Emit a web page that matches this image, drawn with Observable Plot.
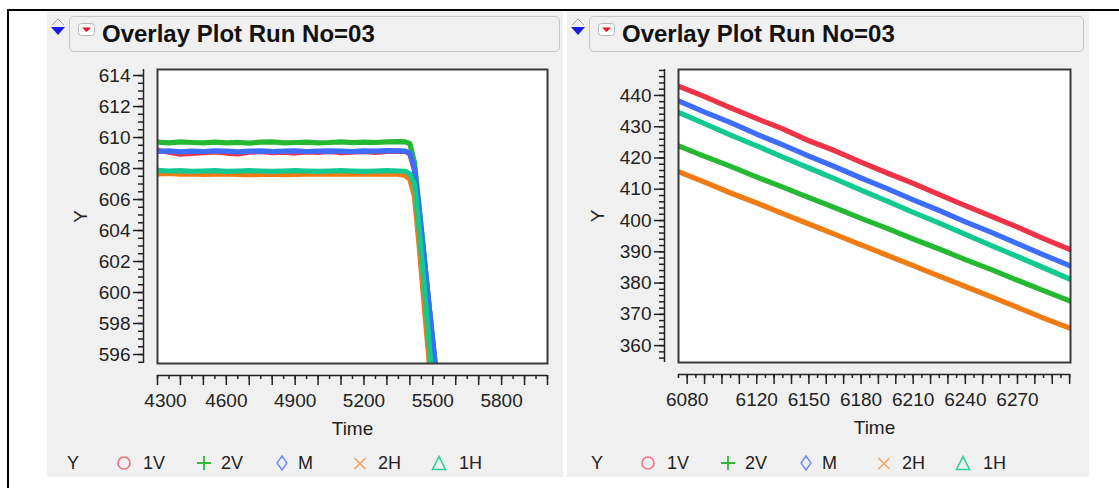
<!DOCTYPE html>
<html>
<head>
<meta charset="utf-8">
<script src="https://cdn.jsdelivr.net/npm/d3@7"></script>
<script src="https://cdn.jsdelivr.net/npm/@observablehq/plot@0.6"></script>
<style>
  body { margin: 0; width: 1119px; height: 488px; background: #fff; position: relative; overflow: hidden;
         font-family: "Liberation Sans", Arial, sans-serif; color: #222; }
  .rule-top { position: absolute; left: 7px; top: 9px; width: 1112px; height: 2px; background: #000; }
  .rule-left { position: absolute; left: 7px; top: 9px; width: 2px; height: 479px; background: #000; }
  .panel { position: absolute; top: 11px; height: 466px; background: #f0f0f0; }
  .outline { position: absolute; left: 3px; top: 7px; }
  .title { position: absolute; top: 5px; height: 34px; border: 1px solid #c6c6c6; border-radius: 5px;
           background: #f0f0f0; box-sizing: content-box; }
  .title .menu { position: absolute; left: 8px; top: 6px; }
  .title span { position: absolute; left: 32px; top: 0; line-height: 34px; font-weight: bold; font-size: 24px; color: #111; }
  .chart { position: absolute; top: 44px; left: 0; }
  .legend { position: absolute; top: 440px; height: 24px; font-size: 18px; }
  .legend > * { position: absolute; top: 0; line-height: 24px; }
</style>
</head>
<body>
<div class="rule-top"></div>
<div class="rule-left"></div>
<div id="left" class="panel" style="left:47px;width:516px"></div>
<div id="right" class="panel" style="left:567px;width:522px"></div>
<script>
// Series names and colours
const seriesNames = ["1V", "2V", "M", "2H", "1H"];
const lineColors = ["#ee3349", "#25b933", "#3d6dff", "#f07b12", "#12c992"];
const legendColors = ["#f26d7e", "#2fb83a", "#6b8cff", "#f5a15c", "#2ccf9c"];

// Run up to the cut-off (left panel)
const leftTime = [4300, 4350, 4400, 4450, 4500, 4550, 4600, 4650, 4700, 4750, 4800, 4850, 4900, 4950, 5000,
                  5050, 5100, 5150, 5200, 5250, 5300, 5350, 5380, 5400, 5420, 5440, 5460, 5480, 5500, 5520];
const left1V = [609.18, 609.05, 608.92, 608.98, 609.02, 609.08, 609.00, 608.95, 609.05, 609.10, 609.02, 609.06, 609.00, 609.08, 609.04,
                609.10, 609.02, 609.06, 609.10, 609.04, 609.10, 609.12, 609.10, 608.95, 607.90, 605.30, 602.50, 599.60, 596.80, 594.00];
const left2V = [609.70, 609.66, 609.72, 609.68, 609.65, 609.70, 609.66, 609.69, 609.64, 609.70, 609.72, 609.66, 609.68, 609.70, 609.66,
                609.68, 609.72, 609.67, 609.70, 609.68, 609.72, 609.74, 609.72, 609.60, 608.40, 605.60, 602.70, 599.70, 596.70, 593.80];
const leftM  = [609.10, 609.14, 609.08, 609.12, 609.10, 609.14, 609.12, 609.08, 609.12, 609.14, 609.10, 609.12, 609.14, 609.10, 609.12,
                609.14, 609.12, 609.10, 609.14, 609.12, 609.16, 609.14, 609.12, 609.00, 608.00, 605.40, 602.60, 599.70, 596.90, 594.10];
const left2H = [607.66, 607.68, 607.64, 607.66, 607.62, 607.64, 607.66, 607.62, 607.60, 607.62, 607.64, 607.60, 607.62, 607.64, 607.66,
                607.64, 607.66, 607.64, 607.66, 607.64, 607.66, 607.64, 607.55, 607.30, 606.20, 603.10, 599.60, 596.20, 592.80, 590.00];
const left1H = [607.88, 607.84, 607.86, 607.82, 607.84, 607.86, 607.82, 607.84, 607.86, 607.84, 607.82, 607.84, 607.86, 607.84, 607.82,
                607.84, 607.86, 607.84, 607.82, 607.84, 607.86, 607.84, 607.82, 607.65, 607.00, 604.20, 600.90, 597.40, 593.90, 590.50];

// Later decline (right panel)
const rightTime = [6075, 6090, 6105, 6120, 6135, 6150, 6165, 6180, 6195, 6210, 6225, 6240, 6255, 6270, 6285, 6300];
const right1V = [443.0, 439.6, 436.0, 432.6, 429.3, 425.5, 422.3, 418.7, 415.2, 411.9, 408.3, 404.8, 401.3, 397.9, 394.2, 390.8];
const right2V = [423.9, 420.5, 417.3, 413.9, 410.7, 407.3, 404.1, 400.7, 397.5, 394.1, 390.9, 387.5, 384.3, 380.9, 377.6, 374.3];
const rightM  = [438.3, 434.7, 431.3, 427.6, 424.2, 420.6, 417.2, 413.6, 410.2, 406.6, 403.2, 399.6, 396.2, 392.6, 389.0, 385.6];
const right2H = [415.6, 412.3, 408.8, 405.6, 402.2, 398.9, 395.6, 392.2, 388.9, 385.6, 382.2, 378.9, 375.6, 372.2, 368.8, 365.6];
const right1H = [434.6, 431.0, 427.3, 423.9, 420.3, 416.8, 413.3, 409.7, 406.2, 402.6, 399.2, 395.6, 392.0, 388.5, 384.9, 381.3];

// Tick labels
const leftYLabels = [596, 598, 600, 602, 604, 606, 608, 610, 612, 614];
const leftXLabels = [4300, 4600, 4900, 5200, 5500, 5800];
const rightYLabels = [360, 370, 380, 390, 400, 410, 420, 430, 440];
const rightXLabels = [6080, 6120, 6150, 6180, 6210, 6240, 6270];

function toRows(time, columns) {
  return columns.flatMap((vals, k) => vals.map((v, i) => ({series: seriesNames[k], time: time[i], y: v})));
}

function overlay(cfg) {
  const ink = "#222";
  const fmt = d => `${d}`;
  const [x0] = cfg.xDomain, [y0] = cfg.yDomain;
  return Plot.plot({
    width: cfg.width, height: 390,
    marginLeft: cfg.marginLeft, marginRight: cfg.marginRight, marginTop: 14, marginBottom: cfg.marginBottom,
    x: {domain: cfg.xDomain},
    y: {domain: cfg.yDomain},
    color: {domain: seriesNames, range: lineColors},
    style: {background: "transparent", fontFamily: "'Liberation Sans', Arial, sans-serif", fontSize: "19px", color: ink, overflow: "visible"},
    marks: [
      Plot.frame({fill: "white"}),
      Plot.line(cfg.rows, {x: "time", y: "y", z: "series", stroke: "series", strokeWidth: 5.2, clip: true}),
      Plot.frame({stroke: "#3a3a3a", strokeWidth: 2}),
      // detached Y axis
      Plot.ruleX([x0], {dx: -14, stroke: ink, strokeWidth: 1.5}),
      Plot.axisY(cfg.yMinor, {anchor: "left", dx: -14, tickSize: 5, tickFormat: () => "", strokeWidth: 1.5, label: null}),
      Plot.axisY(cfg.yLabels, {anchor: "left", dx: -14, tickSize: 10, tickPadding: 3, tickFormat: fmt, strokeWidth: 1.5, label: null}),
      // detached X axis
      Plot.ruleY([y0], {dy: 12, stroke: ink, strokeWidth: 1.5}),
      Plot.axisX(cfg.xMinor, {anchor: "bottom", dy: 12, tickSize: 4, tickFormat: () => "", strokeWidth: 1.5, label: null}),
      Plot.axisX(cfg.xMajor, {anchor: "bottom", dy: 12, tickSize: 10, tickFormat: () => "", strokeWidth: 1.5, label: null}),
      Plot.axisX(cfg.xLabels, {anchor: "bottom", dy: 12, tickSize: 0, tickPadding: 18, tickFormat: fmt, label: null}),
      ...(cfg.xLabelsShifted ? [Plot.axisX(cfg.xLabelsShifted, {anchor: "bottom", dy: 12, dx: 8, tickSize: 0, tickPadding: 18, tickFormat: fmt, label: null})] : []),
      Plot.text(["Time"], {frameAnchor: "bottom", dy: 65, textAnchor: "middle", lineAnchor: "middle", fill: ink}),
      Plot.text(["Y"], {frameAnchor: "left", dx: cfg.yTitleDx, rotate: -90, textAnchor: "middle", lineAnchor: "middle", fill: ink})
    ]
  });
}

function markerSvg(k, color) {
  const s = 18, c = 9;
  const shapes = [
    `<circle cx="${c}" cy="${c}" r="6" fill="none" stroke="${color}" stroke-width="1.6"/>`,
    `<path d="M${c} 2V16M2 ${c}H16" stroke="${color}" stroke-width="1.8"/>`,
    `<path d="M${c} 2L14 ${c}L${c} 16L4 ${c}Z" fill="none" stroke="${color}" stroke-width="1.4"/>`,
    `<path d="M3.5 4L14.5 15M14.5 4L3.5 15" stroke="${color}" stroke-width="1.5"/>`,
    `<path d="M${c} 2.5L15.5 15.5H2.5Z" fill="none" stroke="${color}" stroke-width="1.6"/>`
  ];
  return `<svg width="${s}" height="${s}" style="position:absolute;top:3px">${shapes[k]}</svg>`;
}

function buildPanel(el, opts) {
  el.innerHTML = `
    <svg class="outline" width="16" height="22" viewBox="0 0 16 22">
      <path d="M8 1L14 7M8 1L2 7" stroke="#9aa0b0" stroke-width="1" fill="none"/>
      <path d="M1 9H15L8 17Z" fill="#1a1ae6"/>
    </svg>
    <div class="title" style="left:${opts.titleLeft}px;width:${opts.titleWidth}px">
      <svg class="menu" width="17" height="13"><rect x="0.5" y="0.5" width="16" height="12" rx="3" fill="#fff" stroke="#b8b8b8"/><path d="M4 4.5H13L8.5 9Z" fill="#e8141e"/></svg>
      <span>Overlay Plot Run No=03</span>
    </div>`;
  const chart = overlay(opts.chart);
  chart.classList.add("chart");
  el.appendChild(chart);

  // legend: marker centre / text left, relative to the legend row
  const slots = [[null, 0], [57, 76], [137, 154], [215, 231], [293, 311], [372, 392]];
  const legend = document.createElement("div");
  legend.className = "legend";
  legend.style.left = opts.legendLeft + "px";
  let html = `<span style="left:${slots[0][1]}px">Y</span>`;
  seriesNames.forEach((name, k) => {
    const [mc, tl] = slots[k + 1];
    html += `<div style="left:${mc - 9}px;width:18px;height:24px">${markerSvg(k, legendColors[k])}</div>`;
    html += `<span style="left:${tl}px">${name}</span>`;
  });
  legend.innerHTML = html;
  el.appendChild(legend);
}

const range = (a, b, s) => d3.range(a, b + s / 2, s);

buildPanel(document.getElementById("left"), {
  titleLeft: 22, titleWidth: 489, legendLeft: 20,
  chart: {
    width: 516, marginLeft: 110, marginRight: 16, marginBottom: 82, yTitleDx: -77,
    rows: toRows(leftTime, [left1V, left2V, leftM, left2H, left1H]),
    xDomain: [4300, 6000], yDomain: [595.42, 614.39],
    yLabels: leftYLabels, yMinor: range(595.5, 614, 0.5),
    xMajor: range(4300, 6000, 100), xMinor: range(4300, 6000, 50),
    xLabels: leftXLabels.slice(1), xLabelsShifted: leftXLabels.slice(0, 1)
  }
});

buildPanel(document.getElementById("right"), {
  titleLeft: 22, titleWidth: 493, legendLeft: 24,
  chart: {
    width: 522, marginLeft: 111, marginRight: 19, marginBottom: 83, yTitleDx: -81,
    rows: toRows(rightTime, [right1V, right2V, rightM, right2H, right1H]),
    xDomain: [6075, 6300.5], yDomain: [354.6, 448.3],
    yLabels: rightYLabels, yMinor: range(356, 448, 2),
    xMajor: range(6080, 6300, 10), xMinor: range(6075, 6300, 5),
    xLabels: rightXLabels
  }
});
</script>
</body>
</html>
